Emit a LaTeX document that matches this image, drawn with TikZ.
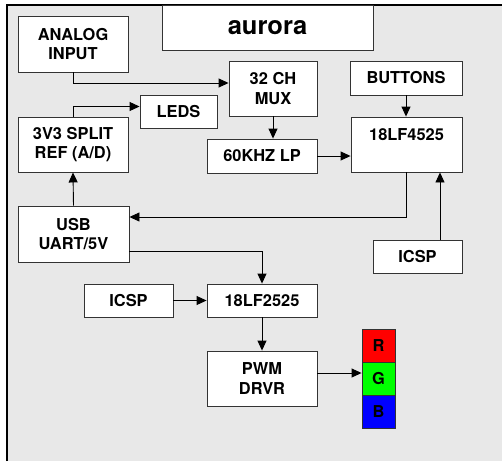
\documentclass[tikz,border=0pt]{standalone}
\usepackage{fontspec}
\setmainfont{TeX Gyre Heros}
\usetikzlibrary{arrows.meta, positioning}

\definecolor{framegray}{HTML}{E8E8E8}

\begin{document}
\begin{tikzpicture}[
        x = 1pt, y = -1pt, node distance = 33pt, on grid,
        >= {Triangle[length = 10pt, width = 9pt]},
        every node/.style = {font = \fontsize{16.4}{19.3}\selectfont\bfseries},
        block/.style = {draw = black!80, line width = 0.9pt, fill = white,
                        align = center, inner sep = 0pt},
        wide/.style = {block, minimum width = 110pt},
        tall/.style = {minimum height = 55pt},
        flat/.style = {minimum height = 33pt},
        led/.style = {draw = black!80, line width = 0.9pt, minimum size = 33pt,
                      inner sep = 0pt},
        wire/.style = {->, line width = 0.9pt}
    ]
      \useasboundingbox (0,0) rectangle (502,461);
      \fill[framegray] (7,5) rectangle (502,461);
      \draw[line width = 1.5pt] (7,461) -- (7,5) -- (502,5);

      \node[block, minimum width = 211pt, minimum height = 45pt,
            font = \fontsize{25.5}{30}\selectfont\bfseries] (title) at (267.5,27.5) {aurora};

      \node[wide, minimum height = 56pt] (analog) at (73,44) {ANALOG\\INPUT};
      \node[block, tall, minimum width = 88pt] (mux) at (273,88.5) {32 CH\\MUX};
      \node[block, flat, minimum width = 77pt] (leds) at (178.5,111.5) {LEDS};
      \node[wide, tall] (ref) at (73,144.5) {3V3 SPLIT\\REF (A/D)};
      \node[wide, flat, minimum height = 34pt] (lp) at (262,156) {60KHZ LP};
      \node[block, flat, minimum width = 112pt, minimum height = 34pt] (buttons) at (406,78) {BUTTONS};
      \node[block, tall, minimum width = 111pt] (mcu) at (406.5,144.5) {18LF4525\\~};
      \node[block, minimum width = 111pt, minimum height = 56pt] (usb) at (73.5,234) {USB\\UART/5V};
      \node[block, flat, minimum width = 89pt] (icsp_a) at (417.5,256.5) {ICSP};
      \node[block, flat, minimum width = 89pt] (icsp_b) at (128.5,300.5) {ICSP};
      \node[wide, flat] (pic) at (262,300.5) {18LF2525};
      \node[wide, tall] (pwm) at (262,378.5) {PWM\\DRVR};

      \node[led, fill = red] (led_r) at (378.5,345.5) {R};
      \node[led, fill = green] (led_g) [below = of led_r] {G};
      \node[led, fill = blue] (led_b) [below = of led_g] {B};

      \draw[wire] (analog.south) |- ([yshift = 5.5pt]mux.west);
      \draw[wire] (ref.north) |- ([yshift = 5pt]leds.west);
      \draw[wire] (usb.north) -- (ref.south);
      \draw[wire] (mux.south) -- (mux.south |- lp.north);
      \draw[wire] (lp.east) -- (lp.east -| mcu.west);
      \draw[wire] (buttons.south) -- (buttons.south |- mcu.north);
      \draw[wire] (mcu.south) |- ([yshift = 17pt]usb.east);
      \draw[wire] ([xshift = 22.5pt]icsp_a.north) -- ([xshift = 22.5pt]icsp_a.north |- mcu.south);
      \draw[wire] ([yshift = -17pt]usb.east) -| (pic.north);
      \draw[wire] (icsp_b.east) -- (pic.west);
      \draw[wire] (pic.south) -- (pwm.north);
      \draw[wire] ([yshift = 5.5pt]pwm.east) -- ([yshift = 5.5pt]pwm.east -| led_g.west);
    \end{tikzpicture}
\end{document}
